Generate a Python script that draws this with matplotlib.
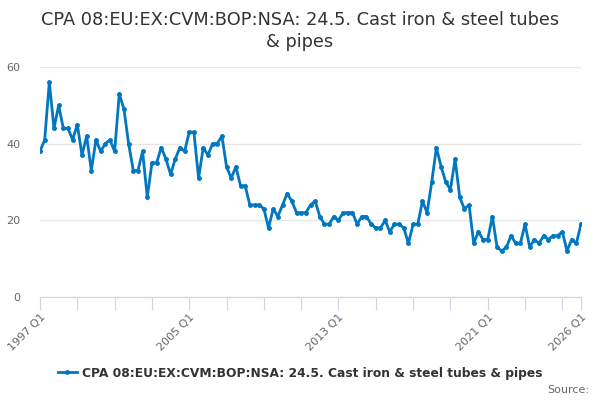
import matplotlib
matplotlib.use('Agg')
import matplotlib.pyplot as plt
import numpy as np

# quarterly values, 1997 Q1 .. 2026 Q1
years = list(range(1997, 2027))
values = [
    38, 41, 56, 44,   # 1997
    50, 44, 44, 41,   # 1998
    45, 37, 42, 33,   # 1999
    41, 38, 40, 41,   # 2000
    38, 53, 49, 40,   # 2001
    33, 33, 38, 26,   # 2002
    35, 35, 39, 36,   # 2003
    32, 36, 39, 38,   # 2004
    43, 43, 31, 39,   # 2005
    37, 40, 40, 42,   # 2006
    34, 31, 34, 29,   # 2007
    29, 24, 24, 24,   # 2008
    23, 18, 23, 21,   # 2009
    24, 27, 25, 22,   # 2010
    22, 22, 24, 25,   # 2011
    21, 19, 19, 21,   # 2012
    20, 22, 22, 22,   # 2013
    19, 21, 21, 19,   # 2014
    18, 18, 20, 17,   # 2015
    19, 19, 18, 14,   # 2016
    19, 19, 25, 22,   # 2017
    30, 39, 34, 30,   # 2018
    28, 36, 26, 23,   # 2019
    24, 14, 17, 15,   # 2020
    15, 21, 13, 12,   # 2021
    13, 16, 14, 14,   # 2022
    19, 13, 15, 14,   # 2023
    16, 15, 16, 16,   # 2024
    17, 12, 15, 14,   # 2025
    19,               # 2026
]
quarters = [f"{y} Q{q}" for y in years for q in range(1, 5)][:len(values)]
labelled = ["1997 Q1", "2005 Q1", "2013 Q1", "2021 Q1", "2026 Q1"]
title = "CPA 08:EU:EX:CVM:BOP:NSA: 24.5. Cast iron & steel tubes\n& pipes"
series_name = "CPA 08:EU:EX:CVM:BOP:NSA: 24.5. Cast iron & steel tubes & pipes"

line_color = '#0077c0'
x = np.arange(len(values))

fig = plt.figure(figsize=(6, 4), dpi=100)
ax = fig.add_axes([40 / 600, 1 - 297 / 400, 541 / 600, 230 / 400])

ax.plot(x, values, color=line_color, linewidth=2, marker='o', markersize=2.5,
        label=series_name)

ax.set_xlim(0, len(values) - 1)
ax.set_ylim(0, 60)
ax.set_yticks([0, 20, 40, 60])
ax.grid(axis='y', color='#e6e6e6', linewidth=1)
ax.set_axisbelow(True)

# tick every 2 years, label only some
tick_pos = list(range(0, len(values) - 4, 8)) + [len(values) - 1]
ax.set_xticks(tick_pos)
ax.set_xticklabels([quarters[i] if quarters[i] in labelled else '' for i in tick_pos],
                   rotation=45, ha='right', rotation_mode='anchor')
ax.tick_params(axis='x', length=9, color='#ccd6eb', labelcolor='#666666',
               labelsize=8, pad=2)
ax.tick_params(axis='y', length=0, labelcolor='#666666', labelsize=8, pad=14)

for s in ['top', 'right', 'left']:
    ax.spines[s].set_visible(False)
ax.spines['bottom'].set_color('#ccd6eb')

fig.text(0.5, 1 - 31 / 400, title, ha='center', va='center', fontsize=12.8,
         color='#333333', linespacing=1.3)

leg = fig.legend(loc='center', bbox_to_anchor=(0.5, 1 - 373 / 400), frameon=False,
                 prop={'weight': 'bold', 'size': 8.8}, handlelength=1.6,
                 handletextpad=0.4)
for t in leg.get_texts():
    t.set_color('#333333')

fig.text(589 / 600, 1 - 390 / 400, "Source:", ha='right', va='center',
         fontsize=8, color='#666666')

fig.savefig('out.png', dpi=100)
